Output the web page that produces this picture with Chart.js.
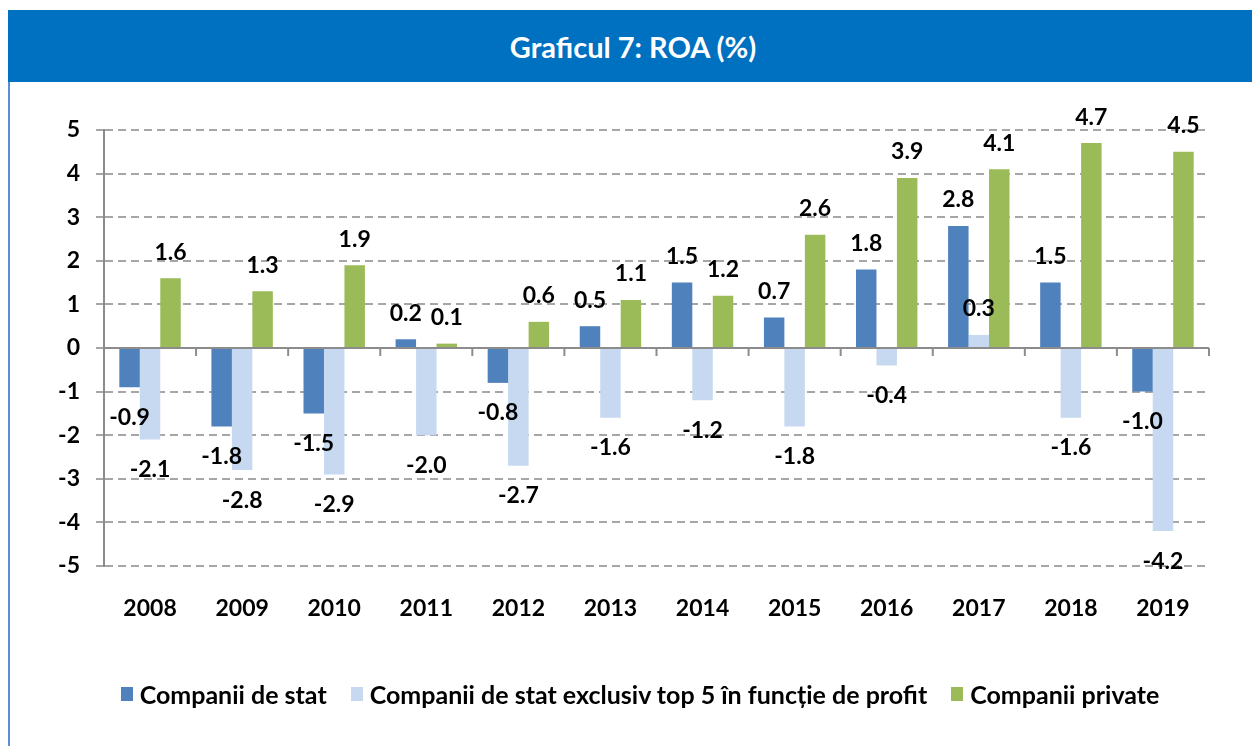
<!DOCTYPE html>
<html>
<head>
<meta charset="utf-8">
<script src="https://cdn.jsdelivr.net/npm/chart.js@4.4.1/dist/chart.umd.min.js"></script>
<style>
  html, body { margin: 0; padding: 0; background: #fff; }
  body { width: 1252px; height: 746px; position: relative; overflow: hidden; font-family: Lato, "Open Sans", sans-serif; }
  #banner { position: absolute; left: 8px; top: 10px; width: 1244px; height: 72px; background: #0070C0;
            color: #fff; font: bold 29px Lato, sans-serif; display: flex; align-items: center; justify-content: center; }
  #banner span { position: relative; left: 3px; }
  #leftline { position: absolute; left: 8px; top: 82px; width: 2px; height: 664px; background: #5B8ED6; }
  #wrap { position: absolute; left: 0; top: 0; width: 1252px; height: 746px; }
  #legend { position: absolute; top: 679px; left: 0; width: 1280px; display: flex; justify-content: center;
            font: bold 25px Lato, sans-serif; color: #000; }
  .item { display: flex; align-items: center; margin: 0 12px; white-space: nowrap; }
  .sw { width: 12px; height: 14px; margin-right: 7px; }
</style>
</head>
<body>
<div id="wrap"><canvas id="c" width="1252" height="746"></canvas></div>
<div id="banner"><span>Graficul 7: ROA (%)</span></div>
<div id="leftline"></div>
<div id="legend"></div>
<script>
const years = ['2008','2009','2010','2011','2012','2013','2014','2015','2016','2017','2018','2019'];
const stateVals = [-0.9, -1.8, -1.5, 0.2, -0.8, 0.5, 1.5, 0.7, 1.8, 2.8, 1.5, -1.0];
const stateExTop5Vals = [-2.1, -2.8, -2.9, -2.0, -2.7, -1.6, -1.2, -1.8, -0.4, 0.3, -1.6, -4.2];
const privateVals = [1.6, 1.3, 1.9, 0.1, 0.6, 1.1, 1.2, 2.6, 3.9, 4.1, 4.7, 4.5];
const seriesNames = ['Companii de stat', 'Companii de stat exclusiv top 5 în funcție de profit', 'Companii private'];
const seriesColors = ['#4F81BD', '#C6D9F1', '#9BBB59'];
const yMin = -5, yMax = 5, yStep = 1;

const FONT = { family: 'Lato, "Open Sans", sans-serif', weight: 'bold', size: 23 };

const zeroAxisPlugin = {
  id: 'zeroAxis',
  afterDatasetsDraw(chart) {
    const { ctx, chartArea, scales } = chart;
    const x = scales.x, y = scales.y;
    const y0 = y.getPixelForValue(0);
    const half = (x.getPixelForValue(1) - x.getPixelForValue(0)) / 2;
    ctx.save();
    ctx.strokeStyle = '#8C8C8C';
    ctx.lineWidth = 2;
    ctx.beginPath();
    ctx.moveTo(chartArea.left, y0);
    ctx.lineTo(chartArea.right, y0);
    for (let i = 0; i <= years.length; i++) {
      const px = x.getPixelForValue(0) - half + i * 2 * half;
      ctx.moveTo(px, y0);
      ctx.lineTo(px, y0 + 8);
    }
    ctx.stroke();
    ctx.restore();
  }
};

const valueLabelPlugin = {
  id: 'valueLabels',
  afterDatasetsDraw(chart) {
    const { ctx } = chart;
    ctx.save();
    ctx.font = `${FONT.weight} ${FONT.size}px ${FONT.family}`;
    ctx.fillStyle = '#000';
    ctx.textAlign = 'center';
    ctx.textBaseline = 'middle';
    chart.data.datasets.forEach((ds, di) => {
      const meta = chart.getDatasetMeta(di);
      meta.data.forEach((el, i) => {
        const v = ds.data[i];
        const yy = v >= 0 ? el.y - 26 : el.y + 30;
        ctx.fillText(v.toFixed(1), el.x, yy);
      });
    });
    ctx.restore();
  }
};

const chart = new Chart(document.getElementById('c'), {
  type: 'bar',
  data: {
    labels: years,
    datasets: [
      { label: seriesNames[0], data: stateVals, backgroundColor: seriesColors[0] },
      { label: seriesNames[1], data: stateExTop5Vals, backgroundColor: seriesColors[1] },
      { label: seriesNames[2], data: privateVals, backgroundColor: seriesColors[2] }
    ]
  },
  options: {
    responsive: false,
    animation: false,
    layout: { padding: { top: 130, left: 0, right: 43, bottom: 120 } },
    datasets: { bar: { categoryPercentage: 0.667, barPercentage: 1.0 } },
    plugins: { legend: { display: false }, tooltip: { enabled: false } },
    scales: {
      x: {
        grid: { display: false },
        border: { display: false },
        ticks: { color: '#000', font: FONT, padding: 21 },
        afterFit(s) { s.height = 60; }
      },
      y: {
        min: yMin, max: yMax,
        ticks: { stepSize: yStep, color: '#000', font: FONT, padding: 16,
                 callback: v => String(v) },
        grid: { color: ctx => (ctx.tick && ctx.tick.value === 0) ? 'rgba(0,0,0,0)' : '#A6A6A6',
                lineWidth: 2, tickLength: 8, tickColor: '#A6A6A6' },
        border: { display: true, color: '#8C8C8C', width: 2, dash: [8, 5] },
        afterFit(s) { s.width = 104; }
      }
    }
  },
  plugins: [zeroAxisPlugin, valueLabelPlugin]
});

const legendEl = document.getElementById('legend');
chart.data.datasets.forEach(ds => {
  const it = document.createElement('div');
  it.className = 'item';
  const sw = document.createElement('span');
  sw.className = 'sw';
  sw.style.background = ds.backgroundColor;
  const tx = document.createElement('span');
  tx.textContent = ds.label;
  it.appendChild(sw); it.appendChild(tx);
  legendEl.appendChild(it);
});
</script>
</body>
</html>
